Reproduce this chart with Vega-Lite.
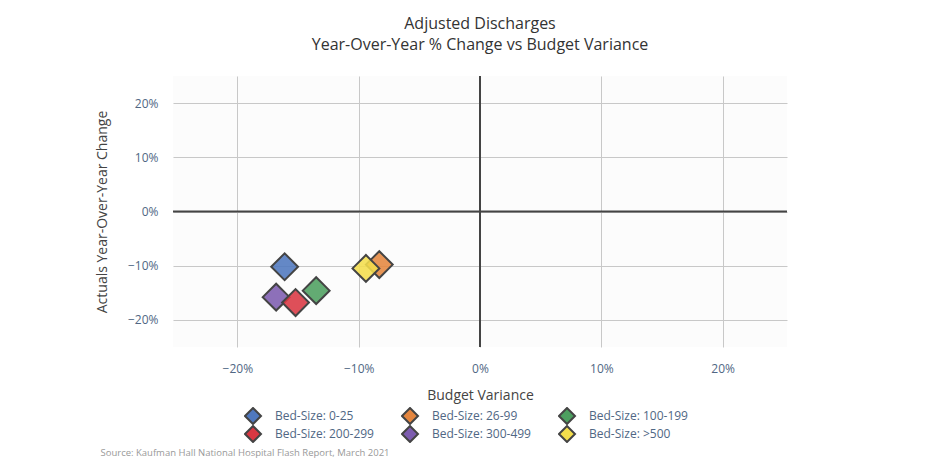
{
  "$schema": "https://vega.github.io/schema/vega-lite/v6.json",
  "width": 614,
  "height": 271,
  "autosize": {"type": "none"},
  "padding": {"left": 173, "top": 76, "right": 162, "bottom": 117},
  "background": "white",
  "config": {
    "font": "Open Sans",
    "view": {"stroke": null, "fill": "#fcfcfc"},
    "axis": {
      "domain": false,
      "ticks": false,
      "gridColor": "#c8c8c8",
      "gridWidth": 1,
      "labelColor": "#506784",
      "labelFontSize": 12,
      "labelFont": "Open Sans",
      "titleFont": "Open Sans",
      "titleFontSize": 14,
      "titleFontWeight": "normal",
      "titleColor": "#444444"
    }
  },
  "title": {
    "text": ["Adjusted Discharges", "Year-Over-Year % Change vs Budget Variance"],
    "font": "Open Sans",
    "fontSize": 16,
    "lineHeight": 21,
    "fontWeight": "normal",
    "color": "#333333",
    "anchor": "middle",
    "frame": "group",
    "baseline": "bottom",
    "offset": 6
  },
  "layer": [
    {
      "data": {
        "values": [
          {"bed": "Bed-Size: 0-25", "budget": -0.161, "yoy": -0.102},
          {"bed": "Bed-Size: 26-99", "budget": -0.083, "yoy": -0.098},
          {"bed": "Bed-Size: 100-199", "budget": -0.135, "yoy": -0.146},
          {"bed": "Bed-Size: 300-499", "budget": -0.168, "yoy": -0.158},
          {"bed": "Bed-Size: 200-299", "budget": -0.152, "yoy": -0.168},
          {"bed": "Bed-Size: >500", "budget": -0.094, "yoy": -0.105}
        ]
      },
      "mark": {
        "type": "point",
        "shape": "diamond",
        "filled": true,
        "size": 720,
        "stroke": "#444444",
        "strokeWidth": 2,
        "fillOpacity": 0.88,
        "opacity": 1
      },
      "encoding": {
        "x": {
          "field": "budget",
          "type": "quantitative",
          "scale": {"domain": [-0.253, 0.253], "nice": false, "zero": false},
          "axis": {
            "title": "Budget Variance",
            "format": ".0%",
            "values": [-0.2, -0.1, 0, 0.1, 0.2],
            "labelPadding": 16,
            "titlePadding": 14
          }
        },
        "y": {
          "field": "yoy",
          "type": "quantitative",
          "scale": {"domain": [-0.25, 0.25], "nice": false, "zero": false},
          "axis": {
            "title": "Actuals Year-Over-Year Change",
            "format": ".0%",
            "values": [-0.2, -0.1, 0, 0.1, 0.2],
            "labelPadding": 15,
            "titlePadding": 18
          }
        },
        "fill": {
          "field": "bed",
          "type": "nominal",
          "scale": {
            "domain": ["Bed-Size: 0-25", "Bed-Size: 26-99", "Bed-Size: 100-199", "Bed-Size: 200-299", "Bed-Size: 300-499", "Bed-Size: >500"],
            "range": ["#4f78be", "#e4863f", "#4d9f60", "#d93742", "#7d5caf", "#f4de4c"]
          },
          "legend": {
            "title": null,
            "orient": "none",
            "legendX": 71,
            "legendY": 331,
            "direction": "horizontal",
            "columns": 3,
            "gridAlign": "all",
            "symbolType": "diamond",
            "symbolSize": 256,
            "symbolStrokeColor": "#444444",
            "symbolStrokeWidth": 2,
            "symbolOpacity": 1,
            "clipHeight": 18,
            "labelFont": "Open Sans",
            "labelFontSize": 12,
            "labelColor": "#506784",
            "labelOffset": 13,
            "columnPadding": 27,
            "rowPadding": 0
          }
        }
      }
    },
    {
      "data": {"values": [{}]},
      "mark": {"type": "rule", "color": "#444444", "strokeWidth": 2},
      "encoding": {"y": {"datum": 0, "type": "quantitative"}}
    },
    {
      "data": {"values": [{}]},
      "mark": {"type": "rule", "color": "#444444", "strokeWidth": 2},
      "encoding": {
        "x": {
          "datum": 0,
          "type": "quantitative",
          "axis": {
            "orient": "bottom",
            "labels": false,
            "ticks": false,
            "domain": false,
            "grid": false,
            "title": "Source: Kaufman Hall National Hospital Flash Report, March 2021",
            "titleFontSize": 9.5,
            "titleColor": "#999999",
            "titleFontWeight": "normal",
            "titleX": -73,
            "titleY": 105,
            "titleAlign": "left",
            "titleAnchor": "start",
            "titleBaseline": "middle"
          }
        }
      }
    }
  ],
  "resolve": {"axis": {"x": "independent"}}
}
